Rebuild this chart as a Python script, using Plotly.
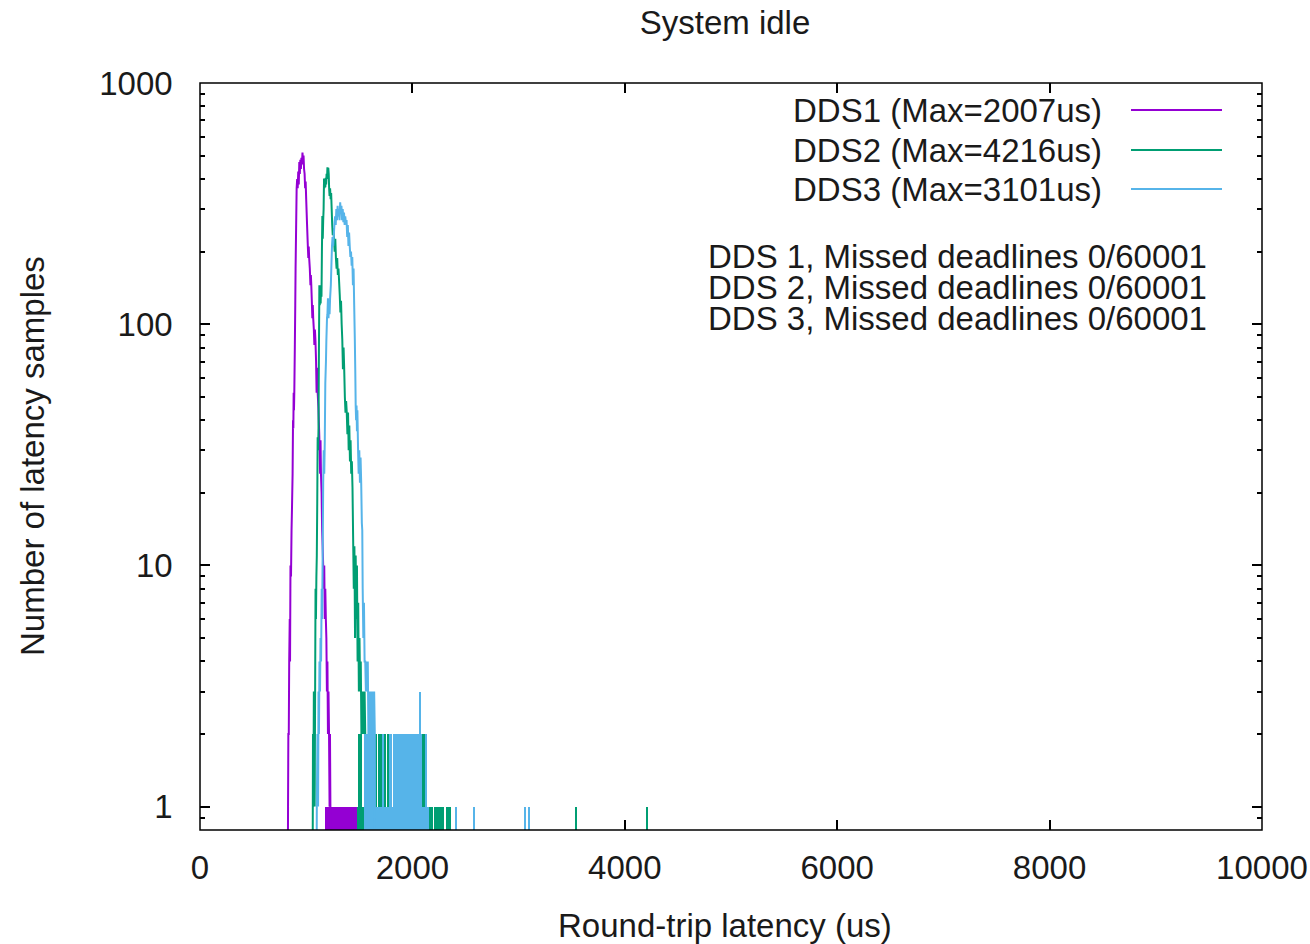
import math
import plotly.graph_objects as go

# ---------------------------------------------------------------------------
# Round-trip latency histograms (bin = latency in us, value = number of samples)
# ---------------------------------------------------------------------------

# DDS1: main body of the distribution
dds1_lat = [820, 829, 832, 836, 840, 845, 848, 852, 857, 862, 866, 872, 876, 879, 882,
            885, 888, 893, 897, 900, 905, 910, 915, 920, 925, 930, 935, 940, 945, 950,
            955, 960, 965, 970, 975, 980, 985, 990, 995, 1000, 1008, 1015, 1020, 1024, 1028,
            1034, 1040, 1044, 1048, 1053, 1058, 1062, 1066, 1072, 1077, 1082, 1087, 1093, 1098, 1103,
            1108, 1115, 1122, 1127, 1131, 1135, 1139, 1145, 1150, 1155, 1160, 1165, 1170, 1175, 1180,
            1185, 1190, 1195, 1200, 1205, 1210, 1215, 1220, 1224, 1228, 1232]
dds1_cnt = [0, 1, 2, 2, 4, 6, 4, 10, 9, 14, 17, 24, 40, 37, 52,
            44, 52, 80, 120, 170, 250, 366, 400, 366, 430, 380, 470, 420, 480, 440,
            490, 460, 515, 470, 500, 440, 420, 366, 390, 330, 260, 213, 188, 210, 188,
            170, 145, 160, 145, 125, 106, 120, 106, 95, 82, 95, 86, 70, 52, 66,
            52, 45, 36, 30, 24, 33, 24, 20, 14, 12, 10, 8, 10, 6, 8,
            6, 5, 3, 4, 2, 3, 2, 1, 2, 1, 0]
# DDS1: sparse bins of the upper tail
dds1_tail_lat = [1190, 1200, 1210, 1220, 1230, 1240, 1250, 1260, 1270, 1280, 1290, 1300,
                 1310, 1320, 1330, 1340, 1350, 1360, 1370, 1380, 1390, 1400, 1410, 1420,
                 1430, 1440, 1450, 1460, 1470, 1480, 1490, 1500, 2007]
dds1_tail_cnt = [1, 1, 1, 1, 1, 1, 1, 1, 1, 1, 1, 1,
                 1, 1, 1, 1, 1, 1, 1, 1, 1, 1, 1, 1,
                 1, 1, 1, 1, 1, 1, 1, 1, 1]

# DDS2: main body of the distribution
dds2_lat = [1055, 1064, 1068, 1072, 1076, 1080, 1084, 1088, 1092, 1096, 1100, 1104, 1108, 1112, 1116,
            1120, 1124, 1128, 1132, 1136, 1140, 1144, 1148, 1152, 1156, 1160, 1164, 1168, 1172, 1176,
            1180, 1184, 1188, 1192, 1196, 1200, 1204, 1208, 1212, 1216, 1220, 1225, 1230, 1235, 1240,
            1245, 1250, 1256, 1262, 1268, 1274, 1280, 1286, 1292, 1298, 1304, 1310, 1316, 1322, 1328,
            1334, 1340, 1346, 1352, 1358, 1364, 1370, 1376, 1382, 1388, 1394, 1400, 1406, 1412, 1418,
            1424, 1430, 1436, 1442, 1448, 1454, 1460, 1466, 1472, 1478, 1484, 1490, 1496, 1502, 1508,
            1514, 1520, 1526, 1532, 1538, 1544, 1550, 1556, 1562, 1568, 1574]
dds2_cnt = [0, 2, 1, 3, 2, 1, 3, 8, 6, 9, 11, 18, 34, 30, 37,
            80, 145, 120, 140, 122, 145, 130, 200, 281, 226, 270, 300, 402, 366, 400,
            370, 405, 380, 420, 400, 447, 425, 445, 420, 366, 340, 366, 330, 350, 300,
            258, 234, 250, 226, 200, 226, 188, 170, 188, 160, 170, 150, 132, 112, 125,
            100, 86, 65, 80, 65, 50, 43, 48, 43, 35, 43, 30, 38, 27, 33,
            24, 27, 21, 13, 8, 12, 5, 11, 6, 10, 4, 7, 3, 5, 3,
            4, 2, 3, 2, 3, 2, 3, 2, 1, 2, 0]
# DDS2: sparse bins of the upper tail
dds2_tail_lat = [1490, 1500, 1510, 1520, 1530, 1540, 1550, 1580, 1590, 1600, 1657, 1688,
                 1698, 1708, 1718, 1745, 1772, 1782, 1998, 2004, 2094, 2104, 2114, 2124,
                 2170, 2185, 2218, 2230, 2248, 2258, 2285, 2295, 2330, 2342, 2355, 3540, 4216]
dds2_tail_cnt = [1, 2, 1, 2, 1, 1, 1, 2, 1, 2, 2, 2,
                 2, 2, 2, 2, 2, 2, 2, 2, 2, 2, 2, 2,
                 1, 1, 1, 1, 1, 1, 1, 1, 1, 1, 1, 1, 1]

# DDS3: main body of the distribution
dds3_lat = [1090, 1100, 1106, 1112, 1116, 1120, 1125, 1130, 1135, 1140, 1146, 1150, 1155, 1160, 1165,
            1170, 1175, 1180, 1186, 1190, 1196, 1200, 1205, 1210, 1215, 1220, 1225, 1232, 1238, 1243,
            1248, 1254, 1260, 1266, 1272, 1278, 1284, 1290, 1296, 1302, 1308, 1314, 1320, 1326, 1332,
            1338, 1344, 1350, 1356, 1362, 1368, 1374, 1380, 1386, 1392, 1398, 1404, 1410, 1416, 1422,
            1428, 1434, 1440, 1446, 1452, 1458, 1462, 1466, 1470, 1474, 1478, 1482, 1488, 1494, 1500,
            1506, 1512, 1518, 1524, 1528, 1532, 1538, 1544, 1550, 1556, 1562, 1568, 1574, 1580, 1586,
            1592, 1598, 1604, 1610, 1616, 1622, 1628, 1634, 1640, 1646, 1652]
dds3_cnt = [0, 1, 2, 1, 3, 2, 4, 3, 5, 4, 8, 6, 11, 22, 30,
            24, 33, 57, 70, 86, 106, 110, 128, 106, 125, 110, 128, 145, 180, 211,
            230, 211, 234, 260, 280, 258, 300, 270, 310, 280, 300, 270, 320, 290, 310,
            270, 300, 265, 290, 258, 280, 260, 270, 230, 258, 211, 240, 211, 190, 200,
            175, 190, 145, 170, 120, 86, 65, 46, 40, 46, 36, 44, 31, 24, 30,
            22, 28, 22, 15, 14, 8, 5, 7, 4, 4, 3, 4, 3, 4, 2,
            3, 2, 3, 2, 3, 2, 3, 2, 3, 2, 0]
# DDS3: sparse bins of the upper tail
dds3_tail_lat = [1560, 1570, 1580, 1590, 1600, 1610, 1620, 1630, 1640, 1650, 1660, 1670,
                 1680, 1690, 1700, 1710, 1720, 1730, 1740, 1750, 1760, 1770, 1780, 1790,
                 1800, 1810, 1820, 1830, 1840, 1850, 1860, 1870, 1880, 1890, 1900, 1910,
                 1920, 1930, 1940, 1950, 1960, 1970, 1980, 1990, 2000, 2010, 2020, 2030,
                 2040, 2050, 2060, 2070, 2080, 2090, 2100, 2110, 2120, 2130, 2140, 2150,
                 2410, 2580, 3060, 3101]
dds3_tail_cnt = [2, 2, 2, 2, 2, 2, 2, 2, 2, 1, 1, 1,
                 1, 1, 1, 1, 1, 2, 1, 1, 1, 1, 1, 2,
                 2, 1, 1, 2, 2, 2, 2, 2, 2, 2, 2, 2,
                 2, 2, 2, 2, 2, 2, 2, 2, 1, 2, 2, 2,
                 2, 2, 2, 3, 2, 1, 1, 1, 1, 2, 1, 1,
                 1, 1, 1, 1]

series_names = ["DDS1 (Max=2007us)", "DDS2 (Max=4216us)", "DDS3 (Max=3101us)"]
series_colors = ["#9400d3", "#009e73", "#56b4e9"]
missed_lines = ["DDS 1, Missed deadlines 0/60001",
                "DDS 2, Missed deadlines 0/60001",
                "DDS 3, Missed deadlines 0/60001"]

x_ticks = [0, 2000, 4000, 6000, 8000, 10000]
x_tick_labels = ["0", "2000", "4000", "6000", "8000", "10000"]
y_ticks = [1, 10, 100, 1000]
y_tick_labels = ["1", "10", "100", "1000"]

# ---------------------------------------------------------------------------
W, H = 1310, 944
ML, MR, MT, MB = 200, 48, 83, 114
FONT = "Liberation Sans, Arial, sans-serif"
FS = 33
TEXT = "#1a1a1a"
ZERO_FLOOR = 0.05   # empty bins are pushed below the visible log range
BAR_W = 14          # drawn width of a sparse bin, in us
LW = 2.0


def paper_x(px):
    return (px - ML) / (W - ML - MR)


def paper_y(py):
    return (H - MB - py) / (H - MT - MB)


fig = go.Figure()
bodies = [(dds1_lat, dds1_cnt), (dds2_lat, dds2_cnt), (dds3_lat, dds3_cnt)]
tails = [(dds1_tail_lat, dds1_tail_cnt), (dds2_tail_lat, dds2_tail_cnt),
         (dds3_tail_lat, dds3_tail_cnt)]

for i, color in enumerate(series_colors):
    tlat, tcnt = tails[i]
    fig.add_trace(go.Bar(x=tlat, y=tcnt, width=BAR_W,
                         marker=dict(color=color, line=dict(width=0)),
                         showlegend=False, hoverinfo="skip", zorder=i))
    blat, bcnt = bodies[i]
    fig.add_trace(go.Scatter(x=blat, y=[c if c > 0 else ZERO_FLOOR for c in bcnt],
                             mode="lines", line=dict(color=color, width=LW, simplify=False),
                             showlegend=False, hoverinfo="skip", zorder=i))

# key: right-aligned labels followed by a line sample
key_rows = [110, 150, 189]
for name, color, row in zip(series_names, series_colors, key_rows):
    fig.add_annotation(x=paper_x(1104), y=paper_y(row), xref="paper", yref="paper",
                       text=name, showarrow=False, xanchor="right", yanchor="middle",
                       font=dict(family=FONT, size=FS, color=TEXT))
    fig.add_shape(type="line", xref="paper", yref="paper",
                  x0=paper_x(1131), x1=paper_x(1222), y0=paper_y(row), y1=paper_y(row),
                  line=dict(color=color, width=LW))

for txt, row in zip(missed_lines, [256, 287, 318]):
    fig.add_annotation(x=paper_x(1209), y=paper_y(row), xref="paper", yref="paper",
                       text=txt, showarrow=False, xanchor="right", yanchor="middle",
                       font=dict(family=FONT, size=FS, color=TEXT))

# axis titles
fig.add_annotation(x=paper_x(725), y=paper_y(925), xref="paper", yref="paper",
                   text="Round-trip latency (us)", showarrow=False,
                   xanchor="center", yanchor="middle",
                   font=dict(family=FONT, size=FS, color=TEXT))
fig.add_annotation(x=paper_x(32), y=paper_y(456), xref="paper", yref="paper",
                   text="Number of latency samples", showarrow=False, textangle=-90,
                   xanchor="center", yanchor="middle",
                   font=dict(family=FONT, size=FS, color=TEXT))

# plot frame
fig.add_shape(type="rect", xref="paper", yref="paper", x0=0, x1=1, y0=0, y1=1,
              line=dict(color="black", width=1.5), layer="above")

axis_common = dict(showline=True, linecolor="black", linewidth=1.5, mirror="ticks",
                   ticks="inside", ticklen=10, tickwidth=1.5, tickcolor="black",
                   showgrid=False, zeroline=False, automargin=False,
                   ticklabeloverflow="allow",
                   tickfont=dict(family=FONT, size=FS, color=TEXT))

fig.update_layout(
    width=W, height=H,
    margin=dict(l=ML, r=MR, t=MT, b=MB, pad=0, autoexpand=False),
    paper_bgcolor="white", plot_bgcolor="white",
    barmode="overlay", bargap=0,
    showlegend=False,
    title=dict(text="System idle", x=paper_x(725), xanchor="center", xref="paper",
               y=1 - 22 / H, yanchor="middle", yref="container",
               font=dict(family=FONT, size=FS, color=TEXT)),
    xaxis=dict(range=[0, 10000.5], tickmode="array", tickvals=x_ticks, ticktext=x_tick_labels,
               ticklabelstandoff=8, **axis_common),
    yaxis=dict(type="log", range=[math.log10(0.8), 3], tickmode="array",
               tickvals=y_ticks, ticktext=y_tick_labels, ticklabelstandoff=19,
               minor=dict(ticks="inside", ticklen=5, tickwidth=1.5, tickcolor="black",
                          dtick="D1", showgrid=False),
               **axis_common),
)

fig.write_html("out.html")
